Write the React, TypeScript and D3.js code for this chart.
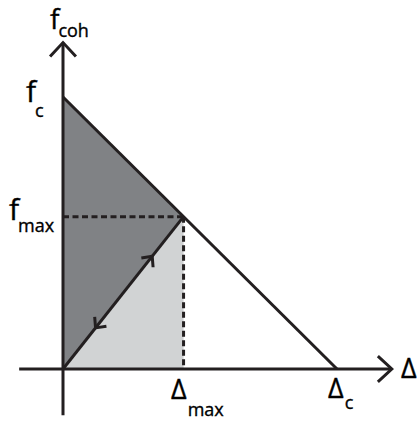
import { useEffect, useRef } from 'react'
import * as d3 from 'd3'

// values in normalised units (fc = 1, Δc = 1)
const axisExtentX = [-0.16, 1.2]
const axisExtentY = [-0.17, 1.2]
const criticalPoint = { delta: 1, f: 1 } // Δc, fc
const maxPoint = { delta: 0.44, f: 0.56 } // Δmax, fmax
const cycleArrows = [
  { t: 0.74, dir: 1 },
  { t: 0.27, dir: -1 },
]
const labels = [
  { main: 'f', sub: 'coh', at: 'yAxis' },
  { main: 'f', sub: 'c', at: 'fc' },
  { main: 'f', sub: 'max', at: 'fmax' },
  { main: 'Δ', sub: 'max', at: 'dmax' },
  { main: 'Δ', sub: 'c', at: 'dc' },
  { main: 'Δ', sub: '', at: 'xAxis' },
]

export default function App() {
  const svgRef = useRef<SVGSVGElement>(null)
  const width = 419
  const height = 421

  useEffect(() => {
    if (!svgRef.current) return
    const svg = d3.select(svgRef.current)
    svg.selectAll('*').remove()

    const x = d3.scaleLinear().domain([0, criticalPoint.delta]).range([63, 337])
    const y = d3.scaleLinear().domain([0, criticalPoint.f]).range([369, 97])
    const ink = '#231f20'
    const line = d3.line<[number, number]>().x(d => x(d[0])).y(d => y(d[1]))

    // dark region: above the cycle line, below the limit line
    svg.append('path')
      .attr('d', line([[0, 0], [0, criticalPoint.f], [maxPoint.delta, maxPoint.f]]) + 'Z')
      .attr('fill', '#808285')
    // light region: below the cycle line
    svg.append('path')
      .attr('d', line([[0, 0], [maxPoint.delta, maxPoint.f], [maxPoint.delta, 0]]) + 'Z')
      .attr('fill', '#d1d3d4')

    // dashed guides
    svg.append('path')
      .attr('d', line([[0, maxPoint.f], [maxPoint.delta, maxPoint.f]]))
      .attr('stroke', ink).attr('stroke-width', 3).attr('stroke-dasharray', '6,3.5').attr('fill', 'none')
    svg.append('path')
      .attr('d', line([[maxPoint.delta, maxPoint.f], [maxPoint.delta, 0]]))
      .attr('stroke', ink).attr('stroke-width', 3).attr('stroke-dasharray', '6,3.5').attr('fill', 'none')

    // limit line fc -> Δc
    svg.append('path')
      .attr('d', line([[0, criticalPoint.f], [criticalPoint.delta, 0]]))
      .attr('stroke', ink).attr('stroke-width', 3).attr('fill', 'none')

    // cycle line origin -> (Δmax, fmax)
    svg.append('path')
      .attr('d', line([[0, 0], [maxPoint.delta, maxPoint.f]]))
      .attr('stroke', ink).attr('stroke-width', 3).attr('fill', 'none')

    const chevron = (tx: number, ty: number, angle: number, len: number) => {
      const a1 = angle + Math.PI - Math.PI / 4.2
      const a2 = angle + Math.PI + Math.PI / 4.2
      svg.append('path')
        .attr('d', `M${tx + len * Math.cos(a1)},${ty + len * Math.sin(a1)}L${tx},${ty}L${tx + len * Math.cos(a2)},${ty + len * Math.sin(a2)}`)
        .attr('stroke', ink).attr('stroke-width', 3).attr('fill', 'none')
    }

    const x0 = x(0), y0 = y(0)
    const x1 = x(maxPoint.delta), y1 = y(maxPoint.f)
    const ang = Math.atan2(y1 - y0, x1 - x0)
    cycleArrows.forEach(a => {
      const px = x0 + (x1 - x0) * a.t
      const py = y0 + (y1 - y0) * a.t
      chevron(px, py, a.dir > 0 ? ang : ang + Math.PI, 11)
    })

    // axes
    svg.append('path')
      .attr('d', line([[axisExtentX[0], 0], [axisExtentX[1], 0]]))
      .attr('stroke', ink).attr('stroke-width', 3).attr('fill', 'none')
    svg.append('path')
      .attr('d', line([[0, axisExtentY[0]], [0, axisExtentY[1]]]))
      .attr('stroke', ink).attr('stroke-width', 3).attr('fill', 'none')
    chevron(x(axisExtentX[1]), y(0), 0, 19)
    chevron(x(0), y(axisExtentY[1]), -Math.PI / 2, 19)

    // labels: [x, main baseline, sub baseline, main size]
    const pos: Record<string, [number, number, number, number]> = {
      yAxis: [50, 29, 37, 28],
      fc: [26, 102, 117, 30],
      fmax: [9, 220, 232, 30],
      dmax: [171, 399, 416, 27],
      dc: [328, 398, 409, 27],
      xAxis: [401, 378, 378, 27],
    }
    labels.forEach(l => {
      const [lx, by, sy, fs] = pos[l.at]
      const t = svg.append('text').attr('x', lx).attr('y', by)
        .attr('font-family', '"Open Sans", sans-serif').attr('fill', '#000')
        .attr('stroke', '#000').attr('stroke-width', 0.35)
      t.append('tspan').attr('font-size', fs).text(l.main)
      if (l.sub) {
        t.append('tspan').attr('font-size', 18).attr('y', sy)
          .attr('dx', l.main === 'f' ? -1 : 1).text(l.sub)
      }
    })
  }, [])

  return (
    <svg ref={svgRef} width={width} height={height}
      style={{ position: 'absolute', left: 0, top: 0, background: '#fff' }} />
  )
}
